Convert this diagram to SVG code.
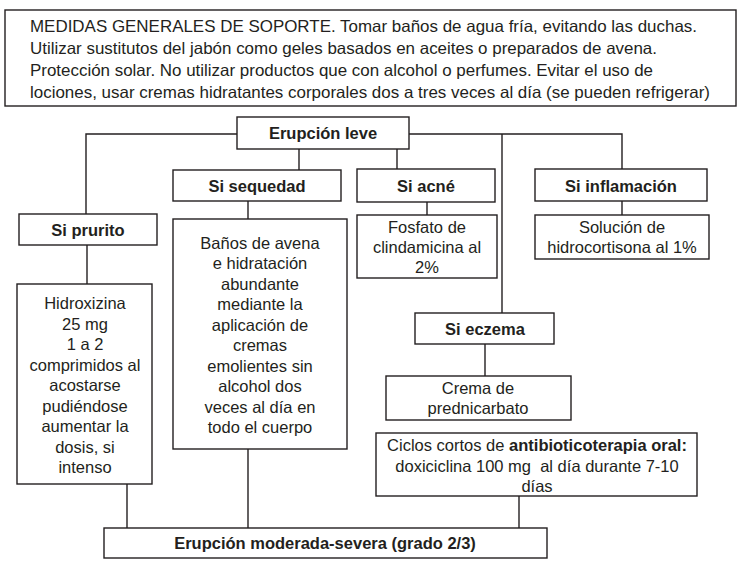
<svg xmlns="http://www.w3.org/2000/svg" width="744" height="571" viewBox="0 0 744 571">
<style>
rect{fill:#fff;stroke:#231f20;stroke-width:1.4}
.c line,.c path{fill:none;stroke:#231f20;stroke-width:1.4}
text{font-family:"Liberation Sans",Arial,sans-serif;font-size:16.5px;fill:#231f20;text-anchor:middle}
.b{font-weight:bold}
.l{text-anchor:start}
</style>
<rect width="744" height="571" style="fill:#fff;stroke:none"/>
<g class="c" id="connectors">
<path d="M237 134H86V214"/>
<path d="M409 134H622V169"/>
<line x1="502" y1="134" x2="502" y2="313"/>
<line x1="299" y1="149" x2="299" y2="170"/>
<line x1="397" y1="149" x2="397" y2="169"/>
<line x1="87" y1="245" x2="87" y2="284"/>
<line x1="248" y1="201" x2="248" y2="219"/>
<line x1="427" y1="202" x2="427" y2="215"/>
<line x1="622" y1="201" x2="622" y2="215"/>
<line x1="485" y1="344" x2="485" y2="376"/>
<line x1="127" y1="484" x2="127" y2="528"/>
<line x1="248" y1="449" x2="248" y2="528"/>
<line x1="519" y1="496" x2="519" y2="528"/>
</g>
<g id="medidas">
<rect x="5" y="10" width="731" height="96"/>
<text class="l" x="30" y="32" textLength="667" lengthAdjust="spacingAndGlyphs">MEDIDAS GENERALES DE SOPORTE. Tomar baños de agua fría, evitando las duchas.</text>
<text class="l" x="30" y="54" textLength="627" lengthAdjust="spacingAndGlyphs">Utilizar sustitutos del jabón como geles basados en aceites o preparados de avena.</text>
<text class="l" x="30" y="76" textLength="623" lengthAdjust="spacingAndGlyphs">Protección solar. No utilizar productos que con alcohol o perfumes. Evitar el uso de</text>
<text class="l" x="30" y="98" textLength="680" lengthAdjust="spacingAndGlyphs">lociones, usar cremas hidratantes corporales dos a tres veces al día (se pueden refrigerar)</text>
</g>
<g id="erupcion-leve">
<rect x="237" y="117" width="172" height="32"/>
<text class="b" x="323" y="139">Erupción leve</text>
</g>
<g id="si-prurito">
<rect x="19" y="214" width="138" height="31"/>
<text class="b" x="88" y="236">Si prurito</text>
</g>
<g id="si-sequedad">
<rect x="173" y="170" width="168" height="31"/>
<text class="b" x="257" y="192">Si sequedad</text>
</g>
<g id="si-acne">
<rect x="357" y="169" width="138" height="33"/>
<text class="b" x="426" y="192">Si acné</text>
</g>
<g id="si-inflamacion">
<rect x="535" y="169" width="172" height="32"/>
<text class="b" x="621" y="192">Si inflamación</text>
</g>
<g id="hidroxizina">
<rect x="17" y="284" width="135" height="200"/>
<text x="85" y="309">Hidroxizina</text>
<text x="85" y="330">25 mg</text>
<text x="85" y="350">1 a 2</text>
<text x="85" y="371">comprimidos al</text>
<text x="85" y="391">acostarse</text>
<text x="85" y="412">pudiéndose</text>
<text x="85" y="432">aumentar la</text>
<text x="85" y="453">dosis, si</text>
<text x="85" y="473">intenso</text>
</g>
<g id="banos">
<rect x="173" y="219" width="174" height="230"/>
<text x="260" y="249">Baños de avena</text>
<text x="260" y="269">e hidratación</text>
<text x="260" y="290">abundante</text>
<text x="260" y="310">mediante la</text>
<text x="260" y="331">aplicación de</text>
<text x="260" y="351">cremas</text>
<text x="260" y="372">emolientes sin</text>
<text x="260" y="392">alcohol dos</text>
<text x="260" y="413">veces al día en</text>
<text x="260" y="433">todo el cuerpo</text>
</g>
<g id="fosfato">
<rect x="357" y="215" width="140" height="63"/>
<text x="427" y="233">Fosfato de</text>
<text x="427" y="253">clindamicina al</text>
<text x="427" y="273">2%</text>
</g>
<g id="solucion">
<rect x="535" y="215" width="174" height="44"/>
<text x="622" y="233">Solución de</text>
<text x="622" y="253">hidrocortisona al 1%</text>
</g>
<g id="si-eczema">
<rect x="415" y="313" width="139" height="31"/>
<text class="b" x="485" y="335">Si eczema</text>
</g>
<g id="crema">
<rect x="386" y="376" width="185" height="44"/>
<text x="478" y="394">Crema de</text>
<text x="478" y="414">prednicarbato</text>
</g>
<g id="ciclos">
<rect x="376" y="433" width="321" height="63"/>
<text x="537" y="451">Ciclos cortos de <tspan class="b">antibioticoterapia oral:</tspan></text>
<text x="537" y="472">doxiciclina 100 mg&#160; al día durante 7-10</text>
<text x="537" y="492">días</text>
</g>
<g id="erupcion-moderada">
<rect x="104" y="528" width="443" height="30"/>
<text class="b" x="325" y="549">Erupción moderada-severa (grado 2/3)</text>
</g>
</svg>
